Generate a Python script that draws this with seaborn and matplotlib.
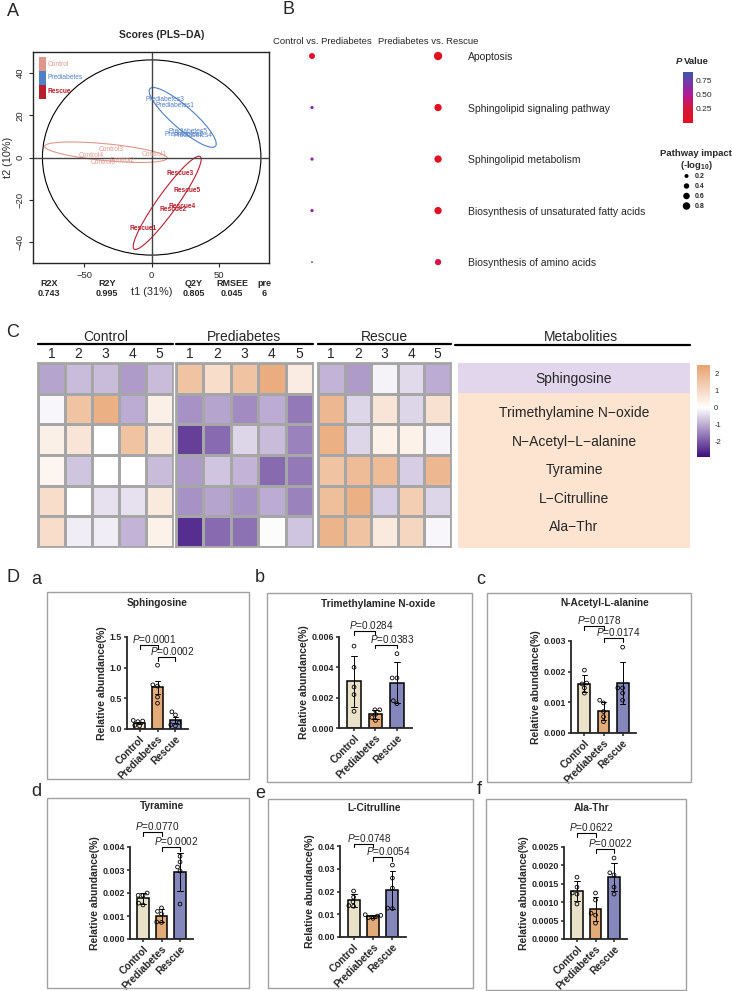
import numpy as np
import pandas as pd
import matplotlib
matplotlib.use('Agg')
import matplotlib.pyplot as plt
import seaborn as sns
from matplotlib.patches import Ellipse, Rectangle
from matplotlib.colors import LinearSegmentedColormap, Normalize
from matplotlib.cm import ScalarMappable
from matplotlib.lines import Line2D
from matplotlib.ticker import FormatStrFormatter

# ---------------- data ----------------
# A: PLS-DA scores
score_groups = ['Control', 'Prediabetes', 'Rescue']
control_t1 = [2, -22, -30, -45, -36]
control_t2 = [1.5, -1.5, 4, 1, -2.5]
prediabetes_t1 = [17, 24, 10, 31, 27]
prediabetes_t2 = [24.5, 11, 27.5, 10.5, 12.5]
rescue_t1 = [-6.5, 16, 21, 22.5, 26]
rescue_t2 = [-33.5, -24.5, -7.5, -23, -15.5]
# ellipse: centre t1, centre t2, width, height, angle
control_ell = [-34, 2.5, 91, 8, -3.5]
prediabetes_ell = [23, 19, 56, 12, -28]
rescue_ell = [11.5, -21.5, 66, 12, 41]
stat_names = ['R2X', 'R2Y', 'Q2Y', 'RMSEE', 'pre']
stat_values = ['0.743', '0.995', '0.805', '0.045', '6']

# B: pathway enrichment
pathways = ['Apoptosis', 'Sphingolipid signaling pathway', 'Sphingolipid metabolism',
            'Biosynthesis of unsaturated fatty acids', 'Biosynthesis of amino acids']
comparisons = ['Control vs. Prediabetes', 'Prediabetes vs. Rescue']
pval_ctrl_pre = [0.08, 0.65, 0.62, 0.62, 0.82]
pval_pre_res = [0.02, 0.03, 0.03, 0.03, 0.30]
impact_ctrl_pre = [0.5, 0.12, 0.12, 0.12, 0.01]
impact_pre_res = [1.05, 0.76, 0.76, 0.76, 0.56]
impact_levels = [0.2, 0.4, 0.6, 0.8]

# C: z-scored heatmap
metabolites = ['Sphingosine', 'Trimethylamine N\u2212oxide', 'N\u2212Acetyl\u2212L\u2212alanine',
               'Tyramine', 'L\u2212Citrulline', 'Ala\u2212Thr']
control_z = [[-1.1, -0.8, -0.8, -1.2, -0.8],
             [-0.1, 1.6, 2.1, -1.0, 0.4],
             [0.4, 0.7, 0.0, 1.6, 0.6],
             [0.25, -0.7, 0.0, 0.0, -0.8],
             [0.9, 0.0, -0.35, -0.35, 0.6],
             [0.9, -0.2, -0.2, -0.9, 0.35]]
prediabetes_z = [[1.6, 0.9, 1.6, 2.2, 0.5],
                 [-1.3, -1.1, -1.4, -1.0, -1.6],
                 [-2.3, -1.8, -0.5, -0.8, -1.5],
                 [-1.2, -0.7, -0.9, -1.8, -1.6],
                 [-1.3, -1.1, -1.3, -1.0, -1.5],
                 [-2.5, -1.8, -1.7, -0.05, -0.7]]
rescue_z = [[-0.9, -1.2, -0.15, -0.45, -1.0],
            [1.9, -0.5, 0.7, -0.5, 0.8],
            [2.1, -0.5, 0.35, 0.35, -0.15],
            [1.6, 1.8, 1.8, -0.6, 1.9],
            [1.7, 2.1, -0.6, 1.3, -0.5],
            [2.0, 1.6, 0.6, 1.1, -0.1]]

# D: relative abundance per sample (Control, Prediabetes, Rescue)
groups = ['Control', 'Prediabetes', 'Rescue']
sphingosine = [[0.14, 0.13, 0.12, 0.06, 0.05], [1.04, 0.72, 0.70, 0.52, 0.42], [0.28, 0.23, 0.10, 0.07, 0.05]]
tmao = [[0.0054, 0.0040, 0.0027, 0.0022, 0.0011], [0.0012, 0.0012, 0.0009, 0.0007, 0.0005], [0.0049, 0.0033, 0.0033, 0.0018, 0.0016]]
nacetyl = [[0.00205, 0.00163, 0.0016, 0.00147, 0.0013], [0.00107, 0.00098, 0.0007, 0.00053, 0.00037], [0.0028, 0.00147, 0.00147, 0.0013, 0.00107]]
tyramine = [[0.0020, 0.0019, 0.0019, 0.00156, 0.00148], [0.00135, 0.0012, 0.00109, 0.00074, 0.00072], [0.0036, 0.00335, 0.00313, 0.00296, 0.00152]]
citrulline = [[0.0202, 0.0175, 0.0155, 0.0138, 0.0135], [0.0098, 0.0095, 0.0092, 0.0085, 0.0082], [0.0316, 0.0259, 0.0215, 0.0127, 0.0125]]
alathr = [[0.00168, 0.00141, 0.00125, 0.00122, 0.00095], [0.00125, 0.00106, 0.0007, 0.00065, 0.00043], [0.0022, 0.0018, 0.00174, 0.00141, 0.00122]]
d_titles = ['Sphingosine', 'Trimethylamine N-oxide', 'N-Acetyl-L-alanine', 'Tyramine', 'L-Citrulline', 'Ala-Thr']
p_ctrl_pre = ['0.0001', '0.0284', '0.0178', '0.0770', '0.0748', '0.0622']
p_pre_res = ['0.0002', '0.0383', '0.0174', '0.0002', '0.0054', '0.0022']
d_ymax = [1.5, 0.006, 0.003, 0.004, 0.04, 0.0025]
d_ystep = [0.5, 0.002, 0.001, 0.001, 0.01, 0.0005]
d_fmt = ['%.1f', '%.3f', '%.3f', '%.3f', '%.2f', '%.4f']
d_err = ['se', 'sd', 'sd', 'sd', 'sd', 'sd']

# ---------------- style / layout helpers ----------------
sns.set_style('ticks')
plt.rcParams['font.family'] = ['Liberation Sans', 'DejaVu Sans']
plt.rcParams['mathtext.fontset'] = 'custom'
plt.rcParams['mathtext.rm'] = 'Liberation Sans'
plt.rcParams['mathtext.it'] = 'Liberation Sans:italic'
plt.rcParams['mathtext.bf'] = 'Liberation Sans:bold'

W, H = 732, 991
fig = plt.figure(figsize=(W / 100, H / 100), dpi=100)


def rect(x0, y0, x1, y1):
    return [x0 / W, 1 - y1 / H, (x1 - x0) / W, (y1 - y0) / H]


def ftext(x, y, s, **kw):
    kw.setdefault('ha', 'center')
    kw.setdefault('va', 'center')
    return fig.text(x / W, 1 - y / H, s, **kw)


def fline(x0, x1, y, **kw):
    fig.add_artist(Line2D([x0 / W, x1 / W], [1 - y / H, 1 - y / H], transform=fig.transFigure, **kw))


def fbox(x0, y0, x1, y1, **kw):
    fig.add_artist(Rectangle((x0 / W, 1 - y1 / H), (x1 - x0) / W, (y1 - y0) / H,
                             transform=fig.transFigure, **kw))


# panel letters
for lab, x, y in [('A', 13, 11), ('B', 288, 10), ('C', 13, 333), ('D', 13, 577), ('a', 36, 579),
                  ('b', 260, 578), ('c', 481, 580), ('d', 36, 792), ('e', 260, 793), ('f', 479, 790)]:
    ftext(x, y, lab, fontsize=13)

# ---------------- A: PLS-DA ----------------
grp_col = {'Control': '#E0978A', 'Prediabetes': '#4F7FC6', 'Rescue': '#B81E2C'}
axA = fig.add_axes(rect(33, 52, 269, 263))
axA.set_xlim(-88, 87)
axA.set_ylim(-50, 50)
axA.axvline(0, color='#444444', lw=1)
axA.axhline(0, color='#444444', lw=1)
axA.add_patch(Ellipse((0, 0), 162, 92.5, fill=False, ec='black', lw=0.8))
pts = [(control_t1, control_t2, control_ell), (prediabetes_t1, prediabetes_t2, prediabetes_ell),
       (rescue_t1, rescue_t2, rescue_ell)]
for g, (t1, t2, ell) in zip(score_groups, pts):
    c = grp_col[g]
    axA.add_patch(Ellipse((ell[0], ell[1]), ell[2], ell[3], angle=ell[4], fill=False, ec=c, lw=0.8))
    for i, (x, y) in enumerate(zip(t1, t2)):
        axA.text(x, y, f'{g}{i + 1}', color=c, fontsize=4.8, ha='center', va='center',
                 fontweight='bold' if g == 'Rescue' else 'normal')
for i, g in enumerate(score_groups):
    axA.add_patch(Rectangle((0.025, 0.976 - (i + 1) * 0.066), 0.03, 0.066, transform=axA.transAxes,
                            color=grp_col[g], lw=0))
    axA.text(0.06, 0.976 - (i + 0.5) * 0.066, g, transform=axA.transAxes, color=grp_col[g],
             fontsize=4.8, va='center', fontweight='bold' if g == 'Rescue' else 'normal')
axA.set_xticks([-50, 0, 50])
axA.set_xticklabels(['\u221250', '0', '50'])
axA.set_yticks([-40, -20, 0, 20, 40])
axA.set_yticklabels(['\u221240', '\u221220', '0', '20', '40'], rotation=90, va='center')
axA.tick_params(labelsize=6.8, length=3, width=0.8, pad=3)
for s in axA.spines.values():
    s.set_linewidth(1)
axA.set_ylabel('t2 (10%)', fontsize=7.8, labelpad=2)
ftext(162, 35, 'Scores (PLS\u2212DA)', fontsize=7.5, fontweight='bold')
ftext(152, 292, 't1 (31%)', fontsize=7.8)
for name, val, x in zip(stat_names, stat_values, [49, 107, 194, 232, 264]):
    ftext(x, 284, name, fontsize=6.5, fontweight='bold')
    ftext(x, 293, val, fontsize=6.5, fontweight='bold')

# ---------------- B: pathway dots ----------------
cmapP = LinearSegmentedColormap.from_list('pv', [(0, '#E3101E'), (0.3, '#D8143C'),
                                                 (0.56, '#B0189A'), (1, '#3D55B0')])
normP = Normalize(0.005, 0.89)
dfB = pd.DataFrame({
    'cmp': [0] * 5 + [1] * 5,
    'row': list(range(5)) * 2,
    'p': pval_ctrl_pre + pval_pre_res,
    'impact': impact_ctrl_pre + impact_pre_res,
})
axB = fig.add_axes(rect(280, 45, 462, 275))
sns.scatterplot(data=dfB, x='cmp', y='row', hue='p', size='impact', palette=cmapP, hue_norm=normP,
                sizes=(1.4, 36), size_norm=(0, 1), legend=False, edgecolor='none', ax=axB)
axB.set_xlim(-0.254, 1.19)
axB.set_ylim(4.25, -0.214)
sns.despine(ax=axB, left=True, bottom=True)
axB.set_xticks([])
axB.set_xlabel('')
axB.set_ylabel('')
axB.yaxis.tick_right()
axB.set_yticks(range(5))
axB.set_yticklabels(pathways, fontsize=7.5)
axB.tick_params(axis='y', length=0, pad=4.3)
ftext(322, 42, comparisons[0], fontsize=6.8)
ftext(428, 42, comparisons[1], fontsize=6.8)

caxP = fig.add_axes(rect(683, 72, 693, 123))
cbP = fig.colorbar(ScalarMappable(norm=normP, cmap=cmapP), cax=caxP)
cbP.outline.set_visible(False)
cbP.set_ticks([0.25, 0.5, 0.75])
cbP.set_ticklabels(['0.25', '0.50', '0.75'])
caxP.tick_params(labelsize=6, length=2.5, color='white', direction='in', pad=2)
ftext(676, 61, 'P', ha='left', fontsize=6.8, fontweight='bold', style='italic')
ftext(684, 61, 'Value', ha='left', fontsize=6.8, fontweight='bold')

ftext(696, 153, 'Pathway impact', fontsize=6.8, fontweight='bold')
ftext(696, 165, r'(-log$_{\mathbf{10}}$)', fontsize=6.8, fontweight='bold')
axS = fig.add_axes(rect(678, 170, 712, 212))
dfS = pd.DataFrame({'x': [0] * len(impact_levels), 'y': range(len(impact_levels)), 'impact': impact_levels})
sns.scatterplot(data=dfS, x='x', y='y', size='impact', sizes=(1.4, 36), size_norm=(0, 1),
                color='black', edgecolor='none', legend=False, ax=axS)
for i, v in enumerate(impact_levels):
    axS.text(1, i, f'{v:.1f}', fontsize=5, fontweight='bold', va='center', ha='left')
axS.set_xlim(-1, 3)
axS.set_ylim(3.6, -0.6)
axS.axis('off')

# ---------------- C: heatmap ----------------
cmapZ = LinearSegmentedColormap.from_list('zs', [(0, '#3D0E7E'), (2.9 / 5.4, '#FFFFFF'), (1, '#E8A26F')])
zmin, zmax = -2.9, 2.5
blocks = [('Control', control_z, 38, 173), ('Prediabetes', prediabetes_z, 176, 313),
          ('Rescue', rescue_z, 318, 451)]
for name, z, x0, x1 in blocks:
    ax = fig.add_axes(rect(x0, 363, x1, 547))
    sns.heatmap(np.array(z), ax=ax, cmap=cmapZ, vmin=zmin, vmax=zmax, cbar=False,
                linewidths=1, linecolor='#A6A6A6', yticklabels=False,
                xticklabels=[str(i) for i in range(1, 6)])
    ax.xaxis.tick_top()
    ax.tick_params(axis='x', length=0, labelsize=10, pad=1.5)
    ax.tick_params(axis='y', length=0)
    for s in ax.spines.values():
        s.set_visible(True)
        s.set_color('#A6A6A6')
        s.set_linewidth(1.3)
    ftext((x0 + x1) / 2, 337, name, fontsize=10)
    fline(x0, x1, 344, color='black', lw=1.6)

ftext(581, 337, 'Metabolities', fontsize=10)
fline(455, 690, 345, color='black', lw=1.6)
fbox(458, 363, 690, 393, color='#E2D6EC', lw=0)
fbox(458, 393, 690, 548, color='#FCE4D1', lw=0)
for name, y in zip(metabolites, [379, 413, 442, 470, 499, 527]):
    ftext(574, y, name, fontsize=10)

caxZ = fig.add_axes(rect(697, 365, 710, 457))
cbZ = fig.colorbar(ScalarMappable(norm=Normalize(zmin, zmax), cmap=cmapZ), cax=caxZ)
cbZ.outline.set_visible(False)
cbZ.set_ticks([-2, -1, 0, 1, 2])
cbZ.set_ticklabels(['-2', '-1', '0', '1', '2'])
caxZ.tick_params(labelsize=5.5, length=0, pad=3)

# ---------------- D: bar charts ----------------
bar_colors = ['#EEE5C4', '#F5AA65', '#7B7FC5']
boxes = [(47, 592, 249, 779), (267, 593, 472, 782), (487, 593, 691, 782),
         (47, 798, 249, 988), (268, 799, 473, 988), (486, 799, 686, 990)]
axes_px = [(127, 637, 188, 729), (339, 637, 412, 728), (571, 641, 636, 733),
           (130, 847, 193, 939), (340, 846, 406, 937), (564, 847, 627, 939)]
title_px = [(157, 603), (378, 604), (605, 603), (162, 806), (374, 808), (592, 808)]
bracket_y = [(1.37, 1.17), (0.0064, 0.0055), (0.00349, 0.0031),
             (0.00465, 0.0040), (0.041, 0.035), (0.00288, 0.00245)]
d_data = [sphingosine, tmao, nacetyl, tyramine, citrulline, alathr]

for k, vals in enumerate(d_data):
    fbox(*boxes[k], fill=False, ec='#A0A0A0', lw=1)
    df = pd.DataFrame({'group': np.repeat(groups, [len(v) for v in vals]),
                       'value': np.concatenate(vals)})
    ax = fig.add_axes(rect(*axes_px[k]))
    sns.barplot(data=df, x='group', y='value', hue='group', order=groups, hue_order=groups,
                palette=bar_colors, errorbar=d_err[k], capsize=0.3, width=0.62,
                err_kws={'color': 'black', 'linewidth': 0.7}, edgecolor='black', linewidth=1.1,
                legend=False, ax=ax)
    n_before = len(ax.collections)
    sns.swarmplot(data=df, x='group', y='value', order=groups, color='white', edgecolor='black',
                  linewidth=0.6, size=2.7, ax=ax)
    for coll in ax.collections[n_before:]:
        coll.set_facecolor('none')
    ymax = d_ymax[k]
    ax.set_xlim(-0.7, 2.7)
    ax.set_ylim(0, ymax)
    ax.set_yticks(np.arange(0, ymax + d_ystep[k] / 2, d_ystep[k]))
    ax.yaxis.set_major_formatter(FormatStrFormatter(d_fmt[k]))
    ax.set_xticks(range(3))
    ax.set_xticklabels(groups, rotation=45, ha='right', rotation_mode='anchor', fontweight='bold')
    ax.tick_params(axis='y', labelsize=6.4, length=2.5, width=1.1, pad=1)
    ax.tick_params(axis='x', labelsize=7.3, length=2.5, width=1.1, pad=1)
    for lab in ax.get_yticklabels():
        lab.set_fontweight('bold')
    sns.despine(ax=ax)
    for s in ['left', 'bottom']:
        ax.spines[s].set_linewidth(1.3)
    ax.set_xlabel('')
    ax.set_ylabel('Relative abundance(%)', fontsize=7.5, fontweight='bold', labelpad=2)
    ftext(*title_px[k], d_titles[k], fontsize=7.3, fontweight='bold')
    drop = ymax * 0.04
    for (a, b), yb, ptxt in zip([(0, 1), (1, 2)], bracket_y[k], [p_ctrl_pre[k], p_pre_res[k]]):
        ax.plot([a, a, b, b], [yb - drop, yb, yb, yb - drop], color='black', lw=0.8, clip_on=False)
        ax.text((a + b) / 2 + 0.3, yb, r'$\mathit{P}$=' + ptxt, fontsize=7.2, ha='center', va='bottom',
                color='#222222', clip_on=False)

fig.savefig('out.png', dpi=100)
